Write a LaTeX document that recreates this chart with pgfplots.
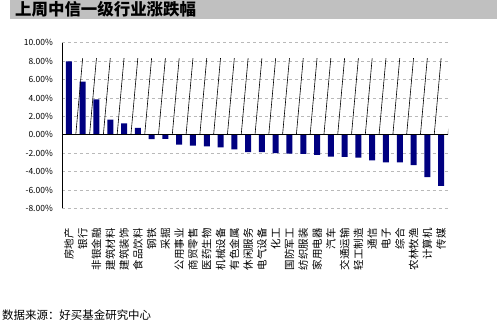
\documentclass[border=0pt]{standalone}
\usepackage{fontspec}
\setmainfont{Noto Sans CJK SC}
\usepackage{pgfplots}
\pgfplotsset{compat=1.18}
\usetikzlibrary{calc}
\definecolor{barblue}{HTML}{000080}
\definecolor{band}{HTML}{C0C0C0}
\begin{document}
\begin{tikzpicture}[x=1bp,y=1bp]
\begin{axis}[
    scale only axis,
    width=386bp, height=165.6bp,
    xmin=-0.5, xmax=27.5,
    ymin=-8, ymax=10,
    axis line style={draw=none},
    ytick={-8,-6,...,10},
    yticklabels={-8.00\%,-6.00\%,-4.00\%,-2.00\%,0.00\%,2.00\%,4.00\%,6.00\%,8.00\%,10.00\%},
    yticklabel style={font=\fontsize{8.5}{10}\selectfont, inner sep=0pt},
    yticklabel shift=9bp,
    ymajorgrids,
    major grid style={gray!55, dashed, line width=0.5pt},
    major tick length=0pt,
    xtick=data,
    xticklabels={房地产,银行,非银金融,建筑材料,建筑装饰,食品饮料,钢铁,采掘,公用事业,商贸零售,医药生物,机械设备,有色金属,休闲服务,电气设备,化工,国防军工,纺织服装,家用电器,汽车,交通运输,轻工制造,通信,电子,综合,农林牧渔,计算机,传媒},
    xticklabel style={rotate=90, anchor=east, inner sep=0pt, font=\fontsize{10.5}{11}\selectfont},
    xticklabel shift=20bp,
    ybar, bar width=6bp,
  ]
  \addplot[fill=barblue, draw=none] coordinates {
    (0,7.98) (1,5.78) (2,3.85) (3,1.64) (4,1.24) (5,0.73) (6,-0.47) (7,-0.45)
    (8,-1.09) (9,-1.20) (10,-1.27) (11,-1.38) (12,-1.60) (13,-1.89) (14,-1.89)
    (15,-1.99) (16,-2.07) (17,-2.08) (18,-2.18) (19,-2.38) (20,-2.40) (21,-2.50)
    (22,-2.80) (23,-3.00) (24,-3.02) (25,-3.30) (26,-4.60) (27,-5.55)};
  \draw[black, line width=0.8pt] (rel axis cs:0,0) -- (rel axis cs:0,1);
  \draw[black, line width=0.8pt] (axis cs:-0.5,0) -- (axis cs:27.5,0);
  \pgfplotsinvokeforeach{0,...,27}{
    \draw[black, line width=0.6pt] (axis cs:#1.5,0) -- ++(0,3bp);
  }
  \coordinate (O) at (rel axis cs:0,0);
\end{axis}
\pgfresetboundingbox
\begin{scope}[shift={($(O)+(-62bp,-116.7bp)$)}]
\useasboundingbox (0,0) rectangle (497,325);
\fill[band] (10,306) rectangle (497,325);
\node[anchor=west,inner sep=0pt,font=\fontsize{16.5}{18}\selectfont\bfseries] at (15,315.5) {上周中信一级行业涨跌幅};
\node[anchor=west,inner sep=0pt,font=\fontsize{11.5}{13}\selectfont] at (2,10) {数据来源：好买基金研究中心};
\end{scope}
\end{tikzpicture}
\end{document}
